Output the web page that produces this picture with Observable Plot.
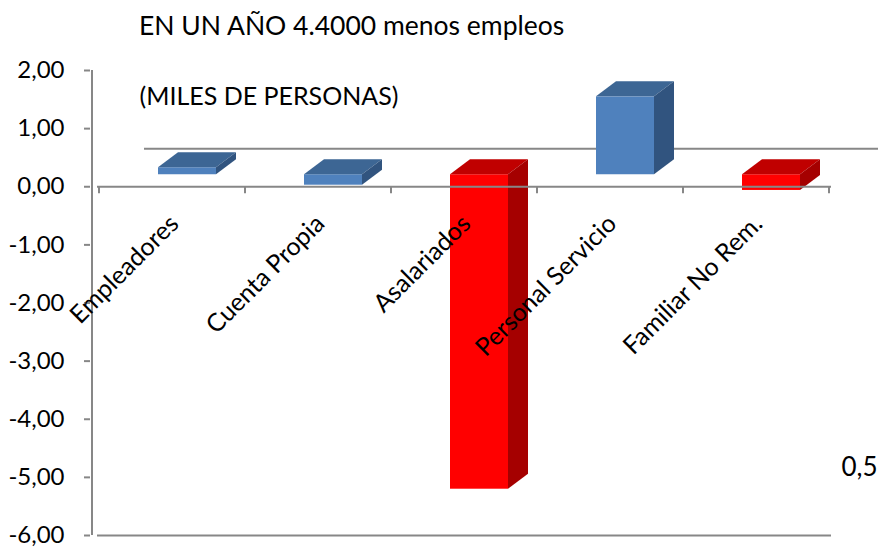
<!DOCTYPE html>
<html>
<head>
<meta charset="utf-8">
<script src="https://cdn.jsdelivr.net/npm/d3@7"></script>
<script src="https://cdn.jsdelivr.net/npm/@observablehq/plot@0.6"></script>
<style>
  body { margin: 0; background: #fff; font-family: Lato, "DejaVu Sans", sans-serif; }
  #title { height: 50px; line-height: 50px; padding-left: 139px; font-size: 26.5px; color: #000; white-space: nowrap; }
  #chart svg { display: block; overflow: hidden; }
</style>
</head>
<body>
<div id="title">EN UN AÑO 4.4000 menos empleos</div>
<div id="chart"></div>
<script>
// ---- data ----
const categories = ["Empleadores", "Cuenta Propia", "Asalariados", "Personal Servicio", "Familiar No Rem."];
const values = [0.12, -0.18, -5.41, 1.34, -0.27];
const seriesGroup = ["azul", "azul", "rojo", "azul", "rojo"];
const yTicks = [-6, -5, -4, -3, -2, -1, 0, 1, 2];
const subtitle = "(MILES DE PERSONAS)";
const strayLabel = "0,5";

// ---- styles ----
const frontColor = {azul: "#4F81BD", rojo: "#FF0000"};
const topColor = {azul: "#3D6694", rojo: "#C00000"};
const sideColor = {azul: "#31547F", rojo: "#A50000"};
const axisGray = "#878787";
const SHIFT_X = 15, SHIFT_Y = -12;   // front face offset from axis plane
const DEPTH_X = 20, DEPTH_Y = -15;   // bar depth

const data = categories.map((c, i) => ({cat: c, value: values[i], group: seriesGroup[i]}));
const fmt = d3.formatLocale({decimal: ",", thousands: ".", grouping: [3], currency: ["", ""], minus: "-"}).format(".2f");

function bw(s) { return typeof s.bandwidth === "function" ? s.bandwidth() : s.bandwidth; }
function st(s) { return typeof s.step === "function" ? s.step() : s.step; }

// 3D faces (top + side) drawn through Plot's scales
function faces(index, scales) {
  const g = d3.create("svg:g");
  const w = bw(scales.x);
  for (const d of data) {
    const x1 = scales.x(d.cat) + SHIFT_X, x2 = x1 + w;
    const yt = scales.y(Math.max(d.value, 0)) + SHIFT_Y;
    const yb = scales.y(Math.min(d.value, 0)) + SHIFT_Y;
    g.append("polygon")
      .attr("points", [[x1, yt], [x1 + DEPTH_X, yt + DEPTH_Y], [x2 + DEPTH_X, yt + DEPTH_Y], [x2, yt]].join(" "))
      .attr("fill", topColor[d.group]);
    g.append("polygon")
      .attr("points", [[x2, yt], [x2 + DEPTH_X, yt + DEPTH_Y], [x2 + DEPTH_X, yb + DEPTH_Y], [x2, yb]].join(" "))
      .attr("fill", sideColor[d.group]);
  }
  return g.node();
}

// axis lines and category boundary ticks
function axes(index, scales) {
  const g = d3.create("svg:g").attr("stroke", axisGray).attr("stroke-width", 2);
  const s = st(scales.x), w = bw(scales.x);
  const pad = (s - w) / 2;
  const y0 = scales.y(0);
  const xLeft = scales.x(categories[0]) - pad;
  g.append("line").attr("x1", xLeft - 7).attr("x2", xLeft - 7)
    .attr("y1", scales.y(d3.max(yTicks))).attr("y2", scales.y(d3.min(yTicks)));
  for (let i = 0; i <= categories.length; i++) {
    const xb = i < categories.length ? scales.x(categories[i]) - pad : scales.x(categories[i - 1]) + w + pad;
    g.append("line").attr("x1", xb).attr("x2", xb).attr("y1", y0).attr("y2", y0 + 7);
  }
  return g.node();
}

const chart = Plot.plot({
  width: 878,
  height: 498,
  marginLeft: 97,
  marginRight: 47,
  marginTop: 20,
  marginBottom: 13,
  style: {fontFamily: "Lato, 'DejaVu Sans', sans-serif", background: "#fff", color: "#000"},
  x: {domain: categories, paddingInner: 0.6, paddingOuter: 0.3, axis: null},
  y: {domain: [-6, 2], label: null},
  color: {domain: Object.keys(frontColor), range: Object.values(frontColor)},
  marks: [
    Plot.ruleY([0], {stroke: axisGray, strokeWidth: 2, dx: 47, dy: -38}),
    Plot.barY(data, {x: "cat", y: "value", fill: "group", dx: SHIFT_X, dy: SHIFT_Y}),
    faces,
    Plot.ruleY([0, d3.min(yTicks)], {stroke: axisGray, strokeWidth: 2}),
    axes,
    Plot.axisY({ticks: yTicks, tickFormat: fmt, tickSize: 6, tickPadding: 20, dx: -7,
      stroke: axisGray, strokeWidth: 2, fontSize: 24, fill: "#000", label: null}),
    Plot.text(data, {x: "cat", y: 0, text: "cat", rotate: -45, textAnchor: "end", lineAnchor: "top",
      dx: -5, dy: 26, fontSize: 25, fill: "#000"}),
    Plot.text([subtitle], {frameAnchor: "top-left", text: d => d, textAnchor: "start", lineAnchor: "middle",
      dx: 42, dy: 26, fontSize: 25, fill: "#000"}),
    Plot.text([strayLabel], {frameAnchor: "bottom-right", text: d => d, textAnchor: "end", lineAnchor: "middle",
      dx: 46, dy: -68, fontSize: 26, fill: "#000"})
  ]
});
document.getElementById("chart").appendChild(chart);
</script>
</body>
</html>
